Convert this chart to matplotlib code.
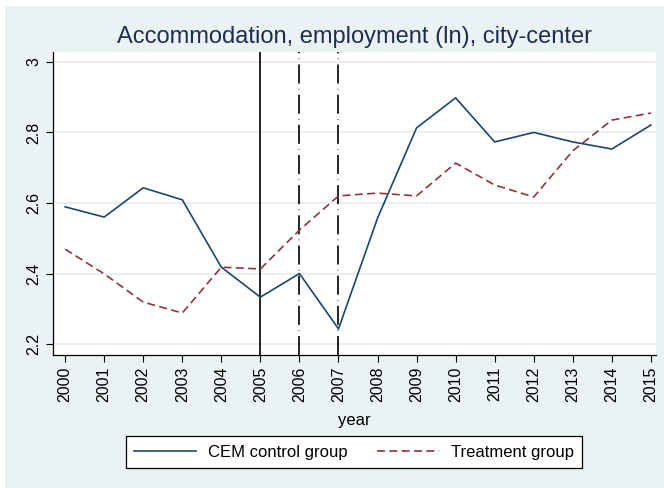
import matplotlib
matplotlib.use("Agg")
import matplotlib.pyplot as plt
from matplotlib.patches import Rectangle

plt.rcParams["font.family"] = ["Liberation Sans", "DejaVu Sans"]

years = list(range(2000, 2016))
cem_control = [2.589, 2.560, 2.643, 2.609, 2.418, 2.333, 2.400, 2.243,
               2.557, 2.813, 2.898, 2.773, 2.800, 2.773, 2.753, 2.821]
treatment = [2.469, 2.399, 2.319, 2.288, 2.418, 2.413, 2.523, 2.620,
             2.628, 2.620, 2.713, 2.651, 2.617, 2.748, 2.835, 2.855]
y_ticks = [2.2, 2.4, 2.6, 2.8, 3.0]
y_labels = ["2.2", "2.4", "2.6", "2.8", "3"]
event_years = [2005, 2006, 2007]

BG = "#EAF2F3"
GRID = "#E4ECEE"
NAVY = "#1A476F"
RED = "#90353B"

W, H = 664, 488
fig = plt.figure(figsize=(W / 100, H / 100), dpi=100, facecolor="white")
fig.patches.append(Rectangle((5 / W, 0), 1 - 5 / W, 1 - 6 / H,
                             transform=fig.transFigure, facecolor=BG,
                             edgecolor="none", zorder=-10))

ax = fig.add_axes([53 / W, 1 - 355 / H, (656 - 53) / W, (355 - 52) / H])
ax.set_facecolor("white")

for yt in y_ticks:
    ax.axhline(yt, color=GRID, lw=1.2, zorder=0)

ax.axvline(event_years[0], color="black", lw=1.2, zorder=1)
for ev in event_years[1:]:
    ax.axvline(ev, color="black", lw=1.2, dashes=(11.4, 3.2, 0.3, 3.2), zorder=1)

ax.plot(years, cem_control, color=NAVY, lw=1.2, label="CEM control group", zorder=3)
ax.plot(years, treatment, color=RED, lw=1.2, dashes=(4.8, 2.6), label="Treatment group", zorder=3)

ax.set_xlim(1999.69, 2015.13)
ax.set_ylim(2.169, 3.028)
ax.set_xticks(years)
ax.set_xticklabels([str(y) for y in years], rotation=90, fontsize=11.5)
ax.set_yticks(y_ticks)
ax.set_yticklabels(y_labels, rotation=90, fontsize=11.5, va="center")
ax.tick_params(direction="out", length=5, width=0.8, colors="black")
for side in ["top", "right"]:
    ax.spines[side].set_visible(False)
for side in ["left", "bottom"]:
    ax.spines[side].set_linewidth(0.9)

ax.set_xlabel("year", fontsize=12, labelpad=8)
fig.text((53 + 656) / 2 / W, 1 - 37 / H, "Accommodation, employment (ln), city-center",
         ha="center", va="center", fontsize=17, color="#1E2D53")

leg = fig.legend(loc="center", bbox_to_anchor=(354 / W, 1 - 452 / H), ncol=2,
                 fontsize=12, frameon=True, fancybox=False, handlelength=3.7,
                 handletextpad=0.7, columnspacing=1.8, borderpad=0.5)
leg.get_frame().set_edgecolor("black")
leg.get_frame().set_linewidth(0.9)
leg.get_frame().set_facecolor("white")
leg.get_frame().set_alpha(1)

fig.savefig("out.png", dpi=100, facecolor=fig.get_facecolor())
